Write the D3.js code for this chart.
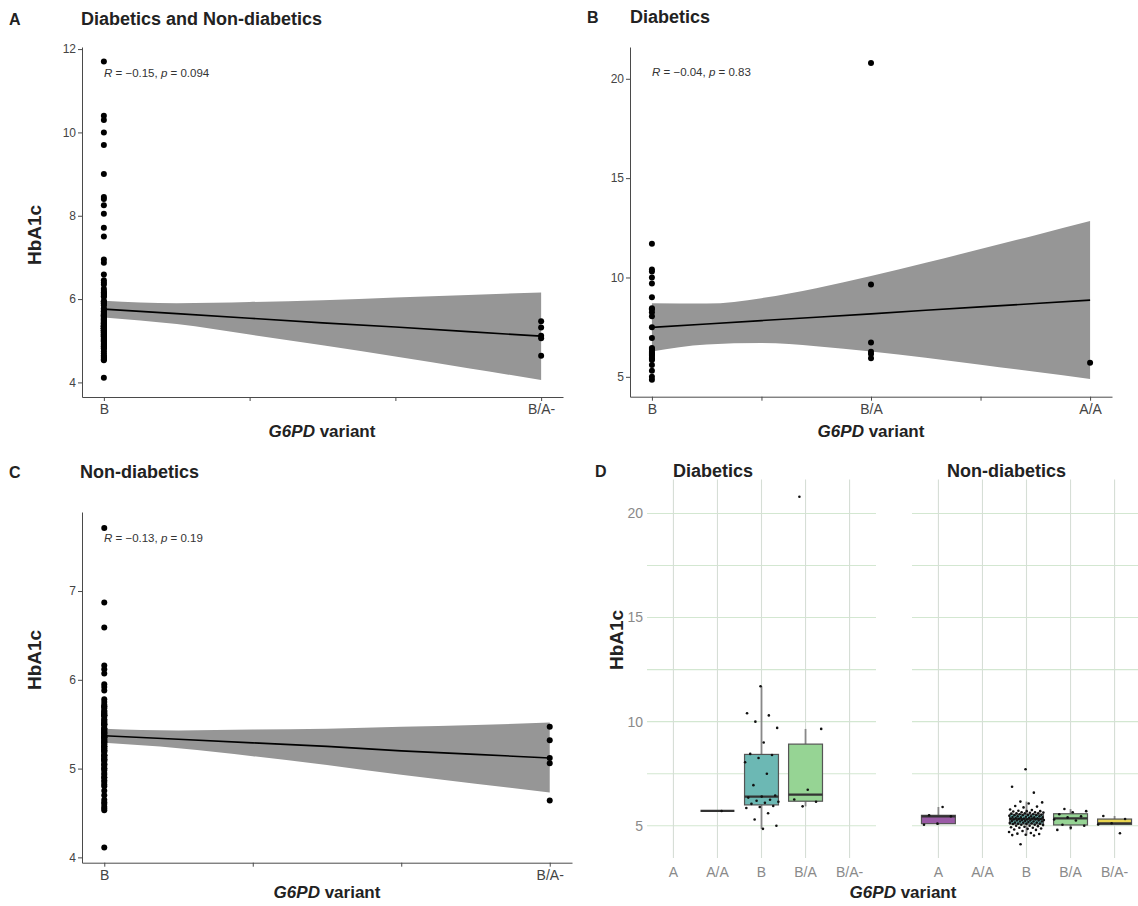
<!DOCTYPE html>
<html>
<head>
<meta charset="utf-8">
<script src="https://cdn.jsdelivr.net/npm/d3@7/dist/d3.min.js"></script>
<style>
  body { margin: 0; background: #fff; }
  svg { font-family: "Liberation Sans", Arial, sans-serif; }
</style>
</head>
<body>
<div id="chart"></div>
<script>
// ---- data ----
const variants = ["A", "A/A", "B", "B/A", "B/A-"];

// HbA1c per G6PD variant, diabetics
const diabeticB = [11.7, 10.4, 10.3, 10.0, 9.7, 9.0, 8.45, 8.4, 8.25, 8.05, 7.5, 6.95, 6.45, 6.4,
  6.35, 6.25, 6.2, 6.15, 6.1, 6.05, 5.95, 5.9, 5.85, 5.6, 5.3, 5.0, 4.85];
const diabeticBA = [20.8, 9.65, 6.73, 6.26, 6.15, 5.93];
const diabeticAA = [5.71];

// HbA1c per G6PD variant, non-diabetics
const nonDiabeticA = [5.9, 5.5, 5.45, 5.1, 5.05];
const nonDiabeticB = [7.71, 6.87, 6.59, 6.16, 6.12, 6.07, 5.95, 5.92, 5.88,
  5.78, 5.75, 5.72, 5.7, 5.7, 5.68, 5.65, 5.65, 5.63, 5.62, 5.6, 5.6, 5.6, 5.58, 5.55, 5.55,
  5.53, 5.52, 5.5, 5.5, 5.5, 5.48, 5.45, 5.45, 5.45, 5.43, 5.42, 5.4, 5.4, 5.4, 5.38, 5.37,
  5.36, 5.35, 5.35, 5.35, 5.33, 5.32, 5.3, 5.3, 5.3, 5.28, 5.27, 5.25, 5.25, 5.25, 5.23, 5.22,
  5.2, 5.2, 5.2, 5.18, 5.15, 5.15, 5.15, 5.13, 5.12, 5.1, 5.1, 5.1, 5.08, 5.05, 5.05, 5.03,
  5.0, 5.0, 4.98, 4.95, 4.93, 4.9, 4.9, 4.87, 4.85, 4.82, 4.8, 4.75, 4.7, 4.65, 4.62, 4.6,
  4.57, 4.55, 4.53, 4.11];
const nonDiabeticBA = [5.8, 5.7, 5.65, 5.55, 5.45, 5.4, 5.3, 5.25, 5.05, 5.0, 4.9, 4.8];
const nonDiabeticBAminus = [5.47, 5.32, 5.12, 5.06, 4.64];

// linear fit and 95% band (panel A: B=1 .. B/A-=4)
const fitXA = [1, 1.5, 2, 2.5, 3, 3.5, 4];
const fitA = [5.76, 5.65, 5.54, 5.43, 5.33, 5.22, 5.11];
const lowerA = [5.56, 5.40, 5.15, 4.89, 4.62, 4.34, 4.06];
const upperA = [5.96, 5.90, 5.93, 5.97, 6.04, 6.10, 6.16];

// panel B: B=1, B/A=3, A/A=5
const fitXB = [1, 1.5, 2, 2.5, 3, 3.5, 4, 4.5, 5];
const fitB = [7.49, 7.66, 7.83, 8.00, 8.17, 8.35, 8.52, 8.69, 8.86];
const lowerB = [6.28, 6.63, 6.70, 6.54, 6.27, 5.96, 5.61, 5.25, 4.89];
const upperB = [8.70, 8.69, 8.96, 9.46, 10.07, 10.74, 11.43, 12.13, 12.84];

// panel C: B=1 .. B/A-=4
const fitXC = [1, 1.5, 2, 2.5, 3, 3.5, 4];
const fitC = [5.37, 5.33, 5.29, 5.25, 5.20, 5.16, 5.12];
const lowerC = [5.29, 5.23, 5.14, 5.04, 4.93, 4.83, 4.73];
const upperC = [5.45, 5.43, 5.44, 5.45, 5.47, 5.49, 5.52];

const variantColors = {"A": "#9a5ba6", "A/A": "#5b6fa5", "B": "#6cb8b4", "B/A": "#96d494", "B/A-": "#ead650"};

const width = 1138, height = 906;

let svg = d3.select("#chart").append("svg")
    .attr("width", width)
    .attr("height", height);

function boldText(x, y, txt, size, anchor) {
    return svg.append("text")
        .attr("x", x).attr("y", y)
        .attr("font-size", size)
        .attr("font-weight", "bold")
        .attr("fill", "#222")
        .attr("text-anchor", anchor || "start")
        .text(txt);
}

function xTitle(cx, y) {
    let t = svg.append("text")
        .attr("x", cx).attr("y", y)
        .attr("text-anchor", "middle")
        .attr("font-size", 17)
        .attr("font-weight", "bold")
        .attr("fill", "#222");
    t.append("tspan").attr("font-style", "italic").text("G6PD");
    t.append("tspan").text(" variant");
}

function yTitle(cx, cy) {
    svg.append("text")
        .attr("transform", "translate(" + cx + "," + cy + ") rotate(-90)")
        .attr("text-anchor", "middle")
        .attr("font-size", 19)
        .attr("font-weight", "bold")
        .attr("fill", "#222")
        .text("HbA1c");
}

// scatter + lm panel (A, B, C)
function scatterPanel(cfg) {
    let x = d3.scaleLinear().domain(cfg.xDomain).range(cfg.xRange);
    let y = d3.scaleLinear().domain(cfg.yDomain).range(cfg.yRange);
    let g = svg.append("g");

    let band = cfg.fitX.map(function (v, i) {
        return {x: v, fit: cfg.fit[i], lo: cfg.lower[i], hi: cfg.upper[i]};
    });

    g.append("path")
        .datum(band)
        .attr("fill", "#969696")
        .attr("d", d3.area()
            .x(function (d) { return x(d.x); })
            .y0(function (d) { return y(d.lo); })
            .y1(function (d) { return y(d.hi); })
            .curve(d3.curveMonotoneX));

    g.append("path")
        .datum(band)
        .attr("fill", "none")
        .attr("stroke", "#000")
        .attr("stroke-width", 1.6)
        .attr("d", d3.line()
            .x(function (d) { return x(d.x); })
            .y(function (d) { return y(d.fit); }));

    cfg.groups.forEach(function (grp) {
        g.append("g").selectAll("circle")
            .data(grp.values)
            .enter().append("circle")
            .attr("cx", x(grp.x))
            .attr("cy", function (d) { return y(d); })
            .attr("r", 3)
            .attr("fill", "#000");
    });

    // axes
    let xAxis = g.append("g")
        .attr("transform", "translate(0," + cfg.yRange[0] + ")")
        .call(d3.axisBottom(x)
            .tickValues(cfg.xTicks)
            .tickFormat(function (d, i) { return cfg.xLabels[i]; })
            .tickSize(4).tickSizeOuter(0));
    xAxis.selectAll("text").attr("font-size", 14).attr("fill", "#444");

    let yAxis = g.append("g")
        .attr("transform", "translate(" + cfg.xRange[0] + ",0)")
        .call(d3.axisLeft(y)
            .tickValues(cfg.yTicks)
            .tickFormat(d3.format("d"))
            .tickSize(4).tickPadding(2).tickSizeOuter(0));
    yAxis.selectAll("text").attr("font-size", 12).attr("fill", "#444");

    g.selectAll(".domain").attr("stroke", "#4a4a4a");
    g.selectAll(".tick line").attr("stroke", "#4a4a4a");

    // correlation label
    let t = g.append("text")
        .attr("x", cfg.label.x).attr("y", cfg.label.y)
        .attr("font-size", 11.5)
        .attr("fill", "#333");
    t.append("tspan").attr("font-style", "italic").text("R");
    t.append("tspan").text(" = \u22120." + cfg.label.r + ", ");
    t.append("tspan").attr("font-style", "italic").text("p");
    t.append("tspan").text(" = " + cfg.label.p);
}

// ---- panel A ----
boldText(9, 25, "A", 16);
boldText(81, 25, "Diabetics and Non-diabetics", 18);
scatterPanel({
    xDomain: [0.85, 4.15], xRange: [82, 563],
    yDomain: [3.65, 12.05], yRange: [397, 47],
    xTicks: [1, 2, 3, 4], xLabels: ["B", "", "", "B/A-"],
    yTicks: [4, 6, 8, 10, 12],
    fitX: fitXA, fit: fitA, lower: lowerA, upper: upperA,
    groups: [{x: 1, values: diabeticB.concat(nonDiabeticB)}, {x: 4, values: nonDiabeticBAminus}],
    label: {x: 104, y: 77, r: "15", p: "0.094"}
});
yTitle(41, 235);
xTitle(322, 437);

// ---- panel B ----
boldText(587, 23, "B", 16);
boldText(630, 23, "Diabetics", 18);
scatterPanel({
    xDomain: [0.8, 5.2], xRange: [630, 1112],
    yDomain: [4.0, 21.6], yRange: [396.7, 47],
    xTicks: [1, 2, 3, 4, 5], xLabels: ["B", "", "B/A", "", "A/A"],
    yTicks: [5, 10, 15, 20],
    fitX: fitXB, fit: fitB, lower: lowerB, upper: upperB,
    groups: [{x: 1, values: diabeticB}, {x: 3, values: diabeticBA}, {x: 5, values: diabeticAA}],
    label: {x: 652, y: 76, r: "04", p: "0.83"}
});
xTitle(871, 437);

// ---- panel C ----
boldText(9, 478, "C", 16);
boldText(80, 478, "Non-diabetics", 18);
scatterPanel({
    xDomain: [0.85, 4.15], xRange: [82, 572],
    yDomain: [3.94, 7.89], yRange: [862.7, 512],
    xTicks: [1, 2, 3, 4], xLabels: ["B", "", "", "B/A-"],
    yTicks: [4, 5, 6, 7],
    fitX: fitXC, fit: fitC, lower: lowerC, upper: upperC,
    groups: [{x: 1, values: nonDiabeticB}, {x: 4, values: nonDiabeticBAminus}],
    label: {x: 104, y: 542, r: "13", p: "0.19"}
});
yTitle(41, 660);
xTitle(327, 898);

// ---- panel D : boxplots by facet ----
boldText(595, 477, "D", 16);

let yD = d3.scaleLinear().domain([3.45, 21.63]).range([858, 479.5]);

let facets = [
    {name: "Diabetics", x0: 647, x1: 876, labelX: 673,
        groups: {"A/A": diabeticAA, "B": diabeticB, "B/A": diabeticBA}},
    {name: "Non-diabetics", x0: 912, x1: 1141, labelX: 947,
        groups: {"A": nonDiabeticA, "B": nonDiabeticB, "B/A": nonDiabeticBA, "B/A-": nonDiabeticBAminus}}
];

function boxStats(values) {
    let s = values.slice().sort(d3.ascending);
    let q1 = d3.quantile(s, 0.25), med = d3.quantile(s, 0.5), q3 = d3.quantile(s, 0.75);
    let iqr = q3 - q1;
    let inside = s.filter(function (v) { return v >= q1 - 1.5 * iqr && v <= q3 + 1.5 * iqr; });
    return {q1: q1, med: med, q3: q3, lo: d3.min(inside), hi: d3.max(inside)};
}

facets.forEach(function (f, fi) {
    let x = d3.scalePoint().domain(variants).range([f.x0, f.x1]).padding(0.6);
    let step = x.step();
    let g = svg.append("g");

    // grid
    g.selectAll("line.h")
        .data([5, 7.5, 10, 12.5, 15, 17.5, 20])
        .enter().append("line")
        .attr("x1", f.x0).attr("x2", f.x1)
        .attr("y1", function (d) { return yD(d); })
        .attr("y2", function (d) { return yD(d); })
        .attr("stroke", "#d3e7d1").attr("stroke-width", 1.1);
    g.selectAll("line.v")
        .data(variants)
        .enter().append("line")
        .attr("x1", function (d) { return x(d); })
        .attr("x2", function (d) { return x(d); })
        .attr("y1", yD.range()[1]).attr("y2", yD.range()[0])
        .attr("stroke", "#d6ded6").attr("stroke-width", 1.1);

    let bw = step * 0.77;

    Object.keys(f.groups).forEach(function (v) {
        let st = boxStats(f.groups[v]);
        let cx = x(v);
        // whiskers
        g.append("line")
            .attr("x1", cx).attr("x2", cx)
            .attr("y1", yD(st.hi)).attr("y2", yD(st.q3))
            .attr("stroke", "#888").attr("stroke-width", 1.8);
        g.append("line")
            .attr("x1", cx).attr("x2", cx)
            .attr("y1", yD(st.q1)).attr("y2", yD(st.lo))
            .attr("stroke", "#888").attr("stroke-width", 1.8);
        g.append("rect")
            .attr("x", cx - bw / 2)
            .attr("width", bw)
            .attr("y", yD(st.q3))
            .attr("height", yD(st.q1) - yD(st.q3))
            .attr("fill", variantColors[v])
            .attr("stroke", "#555")
            .attr("stroke-width", 1.2);
        g.append("line")
            .attr("x1", cx - bw / 2).attr("x2", cx + bw / 2)
            .attr("y1", yD(st.med)).attr("y2", yD(st.med))
            .attr("stroke", "#333").attr("stroke-width", 2.2);
    });

    // jittered points
    Object.keys(f.groups).forEach(function (v, gi) {
        g.append("g").selectAll("circle")
            .data(f.groups[v])
            .enter().append("circle")
            .attr("cx", function (d, i) {
                let off = (((i + 1 + gi * 3) * 0.6180339887) % 1) - 0.5;
                return x(v) + off * 0.8 * step;
            })
            .attr("cy", function (d) { return yD(d); })
            .attr("r", 1.3)
            .attr("fill", "#111");
    });

    // x tick labels
    g.selectAll("text.xt")
        .data(variants)
        .enter().append("text")
        .attr("x", function (d) { return x(d); })
        .attr("y", 877)
        .attr("text-anchor", "middle")
        .attr("font-size", 14)
        .attr("fill", "#8a8a8a")
        .text(function (d) { return d; });

    boldText(f.labelX, 477, f.name, 18);

    if (fi === 0) {
        g.selectAll("text.yt")
            .data([5, 10, 15, 20])
            .enter().append("text")
            .attr("x", 643)
            .attr("y", function (d) { return yD(d); })
            .attr("dy", "0.35em")
            .attr("text-anchor", "end")
            .attr("font-size", 14)
            .attr("fill", "#8a8a8a")
            .text(function (d) { return d; });
    }
});

yTitle(623, 640);
xTitle(903, 898);
</script>
</body>
</html>
